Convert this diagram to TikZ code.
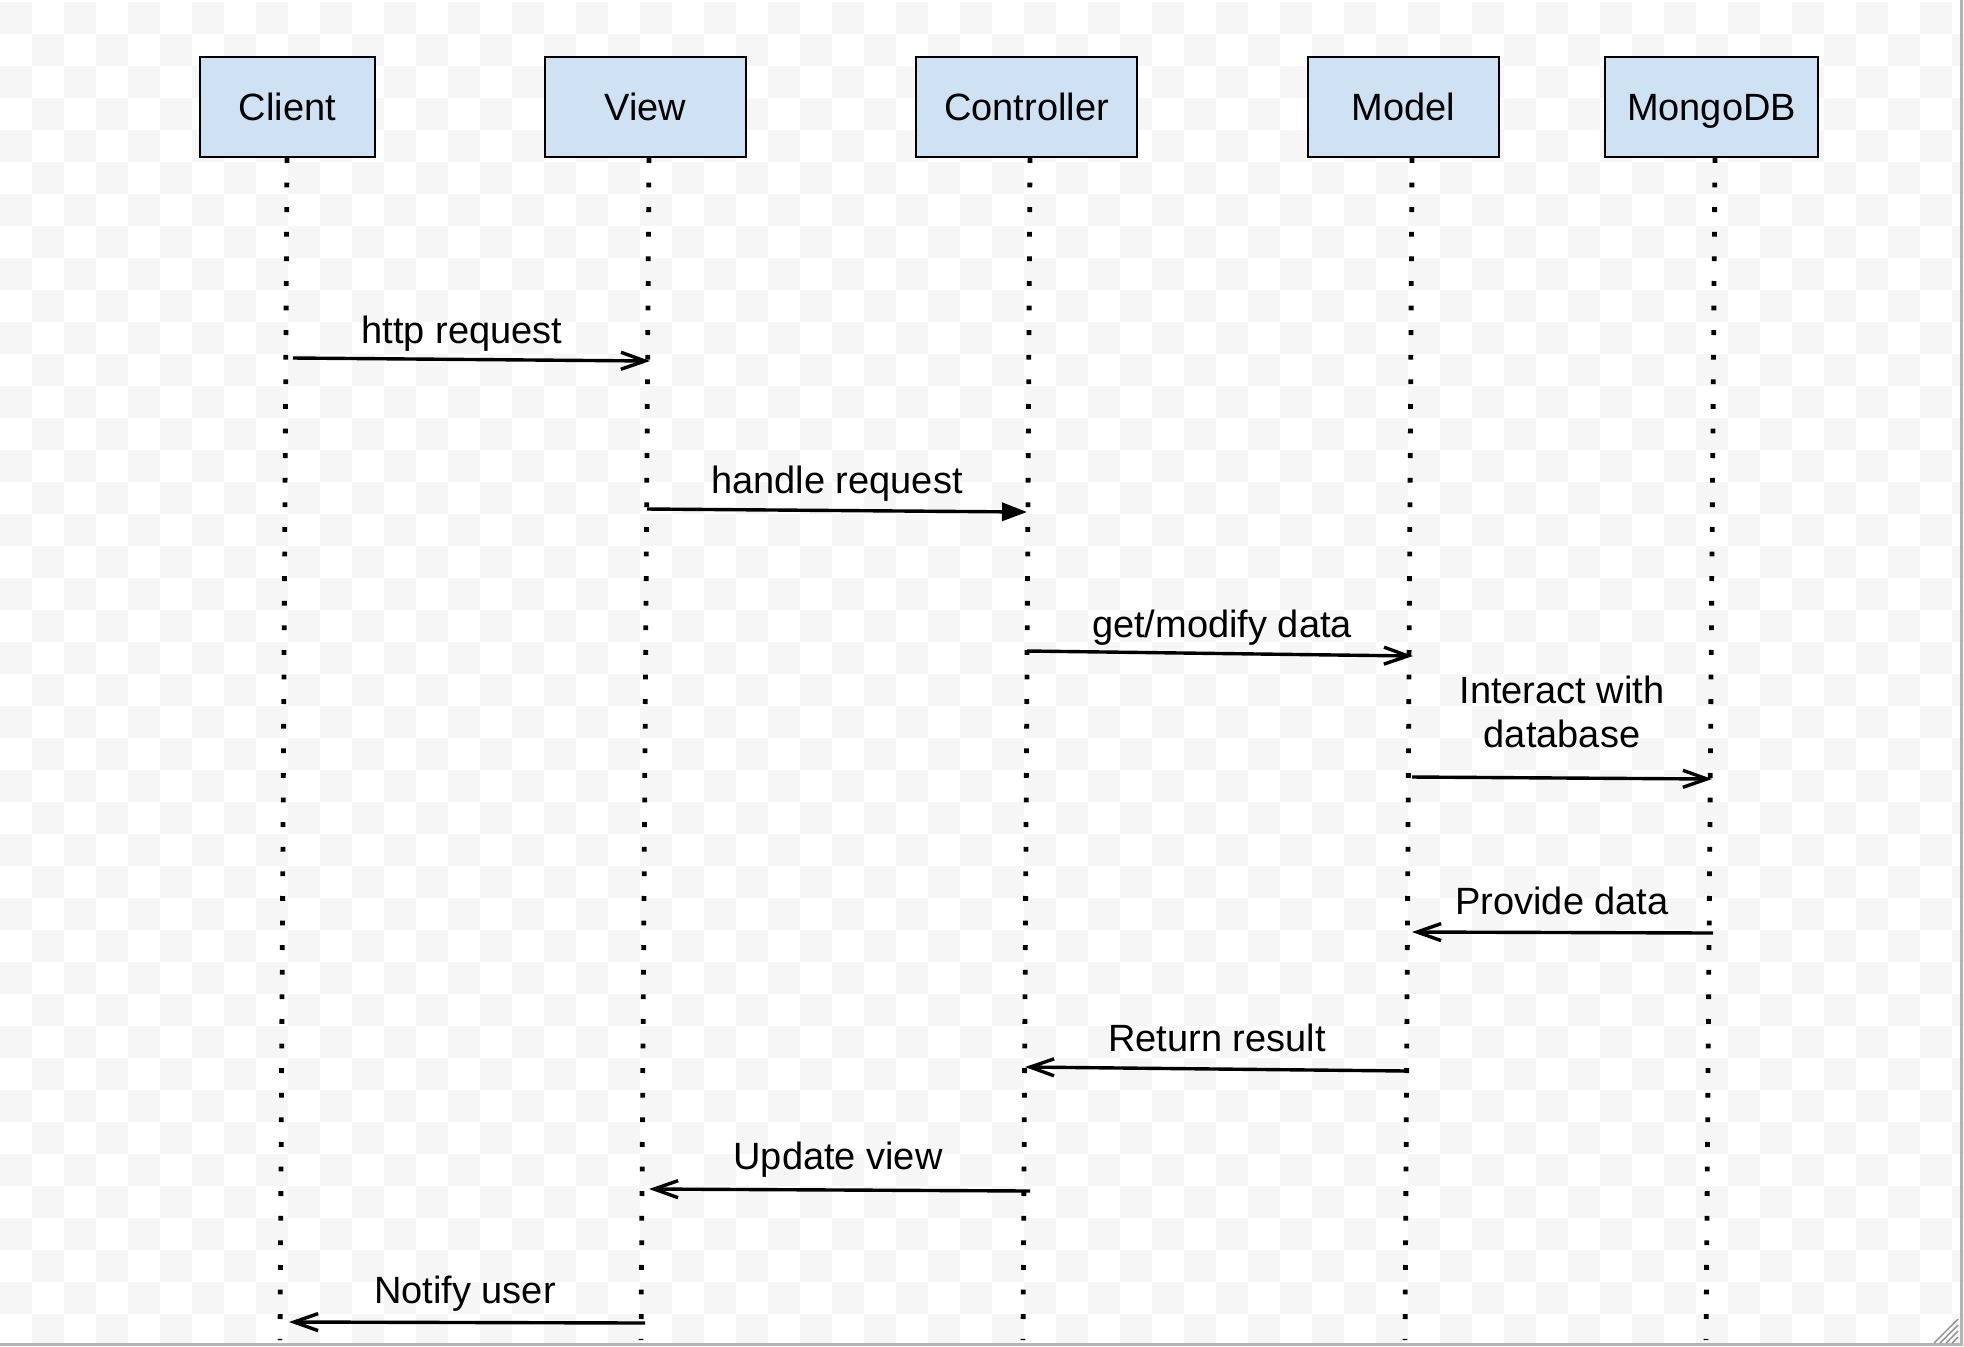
\documentclass[tikz,border=0pt]{standalone}
\usepackage{fontspec}
\setmainfont{Liberation Sans}
\usetikzlibrary{arrows.meta}
\definecolor{boxfill}{HTML}{CFE2F3}
\definecolor{checker}{HTML}{F6F6F6}
\definecolor{framegrey}{HTML}{B4B4B4}
\tikzset{
  actor/.style={draw=black, line width=1pt, fill=boxfill, minimum height=50pt, inner sep=0pt,
    text height=13.6pt, text depth=0pt},
  lifeline/.style={line width=2.4pt, dash pattern=on 2.4pt off 9.9pt},
  msg/.style={line width=1.7pt, -{Straight Barb[length=12pt,width=8.5pt,line width=1.7pt]}},
  call/.style={line width=1.7pt, -{Triangle[length=12.5pt,width=9pt]}},
  lbl/.style={inner sep=0pt, align=center}
}

\begin{document}
\begin{tikzpicture}[x=0.5pt,y=-0.5pt,font=\fontsize{19pt}{22pt}\selectfont]
	\useasboundingbox (0,0) rectangle (1964,1346);
	\clip (0,0) rectangle (1964,1346);
	% background
	\foreach \i in {0,2,...,60}
		\foreach \j in {0,2,...,40} {
			\fill[checker] ({32*\i},{2+32*\j}) rectangle +(32,32);
			\fill[checker] ({32*\i+32},{34+32*\j}) rectangle +(32,32);
		}
	\draw[framegrey, line width=1.5pt] (0,1344.5) -- (1961,1344.5) -- (1961,0);
	\foreach \k in {0,6,...,24}
		\draw[framegrey!80!black, line width=0.7pt] ({1958-\k},1343) -- (1958,{1343-\k});

	% participants
	\node[actor, minimum width=87.5pt] (client) at (287.5,107) {Client};
	\node[actor, minimum width=100.5pt] (view) at (645.5,107) {View};
	\node[actor, minimum width=110.5pt] (ctrl) at (1026.5,107) {Controller};
	\node[actor, minimum width=95.5pt] (model) at (1403.5,107) {Model};
	\node[actor, minimum width=106.5pt] (mongo) at (1711.5,107) {MongoDB};

	% lifelines
	\coordinate (client-top) at (287,158);
	\coordinate (client-end) at (280,1340);
	\coordinate (view-top) at (649,158);
	\coordinate (view-end) at (641,1340);
	\coordinate (ctrl-top) at (1030,158);
	\coordinate (ctrl-end) at (1023,1340);
	\coordinate (model-top) at (1412,158);
	\coordinate (model-end) at (1405,1340);
	\coordinate (mongo-top) at (1715,158);
	\coordinate (mongo-end) at (1706,1340);
	\draw[lifeline] (client-top) -- (client-end);
	\draw[lifeline] (view-top) -- (view-end);
	\draw[lifeline] (ctrl-top) -- (ctrl-end);
	\draw[lifeline] (model-top) -- (model-end);
	\draw[lifeline] (mongo-top) -- (mongo-end);

	% messages
	\coordinate (m1a) at (293,358);   \coordinate (m1b) at (650,361);
	\coordinate (m2a) at (647,509);   \coordinate (m2b) at (1027,512);
	\coordinate (m3a) at (1027,651);  \coordinate (m3b) at (1413,656);
	\coordinate (m4a) at (1412,777);  \coordinate (m4b) at (1712,779);
	\coordinate (m5a) at (1713,933);  \coordinate (m5b) at (1412,932);
	\coordinate (m6a) at (1407,1071); \coordinate (m6b) at (1025,1067);
	\coordinate (m7a) at (1030,1191); \coordinate (m7b) at (649,1189);
	\coordinate (m8a) at (645,1323);  \coordinate (m8b) at (289,1322);
	\draw[msg] (m1a) -- (m1b);
	\draw[call] (m2a) -- (m2b);
	\draw[msg] (m3a) -- (m3b);
	\draw[msg] (m4a) -- (m4b);
	\draw[msg] (m5a) -- (m5b);
	\draw[msg] (m6a) -- (m6b);
	\draw[msg] (m7a) -- (m7b);
	\draw[msg] (m8a) -- (m8b);

	% labels
	\node[lbl] (l1) at (462,334) {http request};
	\node[lbl] (l2) at (837,484) {handle request};
	\node[lbl] (l3) at (1222,628) {get/modify data};
	\node[lbl] (l4) at (1562,711.5) {Interact with\\database};
	\node[lbl] (l5) at (1562,900.5) {Provide data};
	\node[lbl] (l6) at (1217,1037.5) {Return result};
	\node[lbl] (l7) at (838,1160) {Update view};
	\node[lbl] (l8) at (465,1294) {Notify user};
\end{tikzpicture}
\end{document}
